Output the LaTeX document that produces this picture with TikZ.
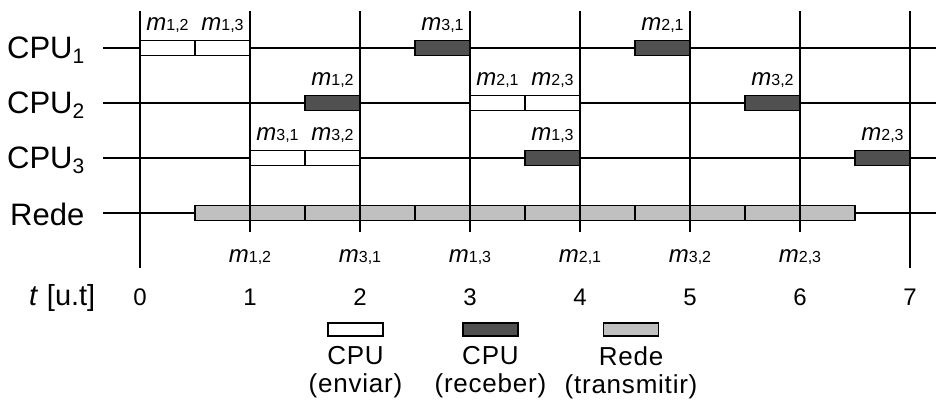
\documentclass[tikz,border=0pt]{standalone}
\usepackage{fontspec}
\setmainfont{Liberation Sans}

\definecolor{recvgray}{HTML}{505050}
\definecolor{netgray}{HTML}{C0C0C0}

\tikzset{
  slot/.style={draw=black,line width=1.4pt,minimum width=55pt,minimum height=15pt,inner sep=0pt},
  send/.style={slot,fill=white},
  recv/.style={slot,fill=recvgray},
  net/.style={slot,fill=netgray},
  msg/.style={anchor=base,inner sep=0pt,font=\fontsize{24}{24}\selectfont},
  row/.style={anchor=base east,inner sep=0pt,font=\fontsize{31}{31}\selectfont},
  key/.style={slot,minimum height=13pt},
  keytext/.style={anchor=north,inner sep=0pt,align=center,font=\fontsize{26}{28}\selectfont\addfontfeature{LetterSpace=3}},
}

% message m_{i,j} and processor labels
\newcommand\mij[1]{\textit{m}{\fontsize{16}{16}\selectfont#1}}
\newcommand\cpuj[1]{CPU\raisebox{-5pt}{\fontsize{21}{21}\selectfont#1}}

\begin{document}
\begin{tikzpicture}[x=110pt,y=55pt,line width=1.4pt]
    \useasboundingbox (-1.2727,-3.4182) rectangle (7.2364,3.8727);

    % time marks and rows
    \foreach \t in {1,...,6} \draw (\t,3.6727) -- (\t,-0.3455);
    \draw (0,3.6727) -- (0,-1);
    \draw (7,3.6727) -- (7,-1);
    \foreach \r in {0,...,3} \draw (-0.336,\r) -- (7.2364,\r);

    \node[row] (lc1) at (-0.5,2.8) {\cpuj{1}};
    \node[row] (lc2) at (-0.5,1.8) {\cpuj{2}};
    \node[row] (lc3) at (-0.5,0.8) {\cpuj{3}};
    \node[row] (lnet) at (-0.5,-0.22) {Rede};

    % CPU 1
    \node[send] (a1) at (0.25,3) {};
    \node[send] (a2) at (0.75,3) {};
    \node[recv] (a3) at (2.75,3) {};
    \node[recv] (a4) at (4.75,3) {};
    \node[msg] (ma1) at ([yshift=9pt]a1.north) {\mij{1,2}};
    \node[msg] (ma2) at ([yshift=9pt]a2.north) {\mij{1,3}};
    \node[msg] (ma3) at ([yshift=9pt]a3.north) {\mij{3,1}};
    \node[msg] (ma4) at ([yshift=9pt]a4.north) {\mij{2,1}};

    % CPU 2
    \node[recv] (b1) at (1.75,2) {};
    \node[send] (b2) at (3.25,2) {};
    \node[send] (b3) at (3.75,2) {};
    \node[recv] (b4) at (5.75,2) {};
    \node[msg] (mb1) at ([yshift=9pt]b1.north) {\mij{1,2}};
    \node[msg] (mb2) at ([yshift=9pt]b2.north) {\mij{2,1}};
    \node[msg] (mb3) at ([yshift=9pt]b3.north) {\mij{2,3}};
    \node[msg] (mb4) at ([yshift=9pt]b4.north) {\mij{3,2}};

    % CPU 3
    \node[send] (c1) at (1.25,1) {};
    \node[send] (c2) at (1.75,1) {};
    \node[recv] (c3) at (3.75,1) {};
    \node[recv] (c4) at (6.75,1) {};
    \node[msg] (mc1) at ([yshift=9pt]c1.north) {\mij{3,1}};
    \node[msg] (mc2) at ([yshift=9pt]c2.north) {\mij{3,2}};
    \node[msg] (mc3) at ([yshift=9pt]c3.north) {\mij{1,3}};
    \node[msg] (mc4) at ([yshift=9pt]c4.north) {\mij{2,3}};

    % network
    \foreach \i in {1,...,12} \node[net] (n\i) at (0.25+0.5*\i,0) {};

    \node[msg] (mn1) at (1,-0.909) {\mij{1,2}};
    \node[msg] (mn2) at (2,-0.909) {\mij{3,1}};
    \node[msg] (mn3) at (3,-0.909) {\mij{1,3}};
    \node[msg] (mn4) at (4,-0.909) {\mij{2,1}};
    \node[msg] (mn5) at (5,-0.909) {\mij{3,2}};
    \node[msg] (mn6) at (6,-0.909) {\mij{2,3}};

    % time axis
    \node[anchor=base east,inner sep=0pt,font=\fontsize{29}{29}\selectfont] (lt) at (-0.4,-1.673) {\textit{t}\hspace{0.3em}[u.t]};
    \foreach \t in {0,...,7} \node[msg] (t\t) at (\t,-1.673) {\t};

    % key
    \node[key,fill=white] (k1) at (1.959,-2.118) {};
    \node[key,fill=recvgray] (k2) at (3.186,-2.118) {};
    \node[key,fill=netgray] (k3) at (4.464,-2.118) {};
    \node[keytext] (lk1) at ([yshift=-9pt]k1.south) {CPU\\(enviar)};
    \node[keytext] (lk2) at ([yshift=-9pt]k2.south) {CPU\\(receber)};
    \node[keytext] (lk3) at ([yshift=-9pt]k3.south) {Rede\\(transmitir)};
\end{tikzpicture}
\end{document}
